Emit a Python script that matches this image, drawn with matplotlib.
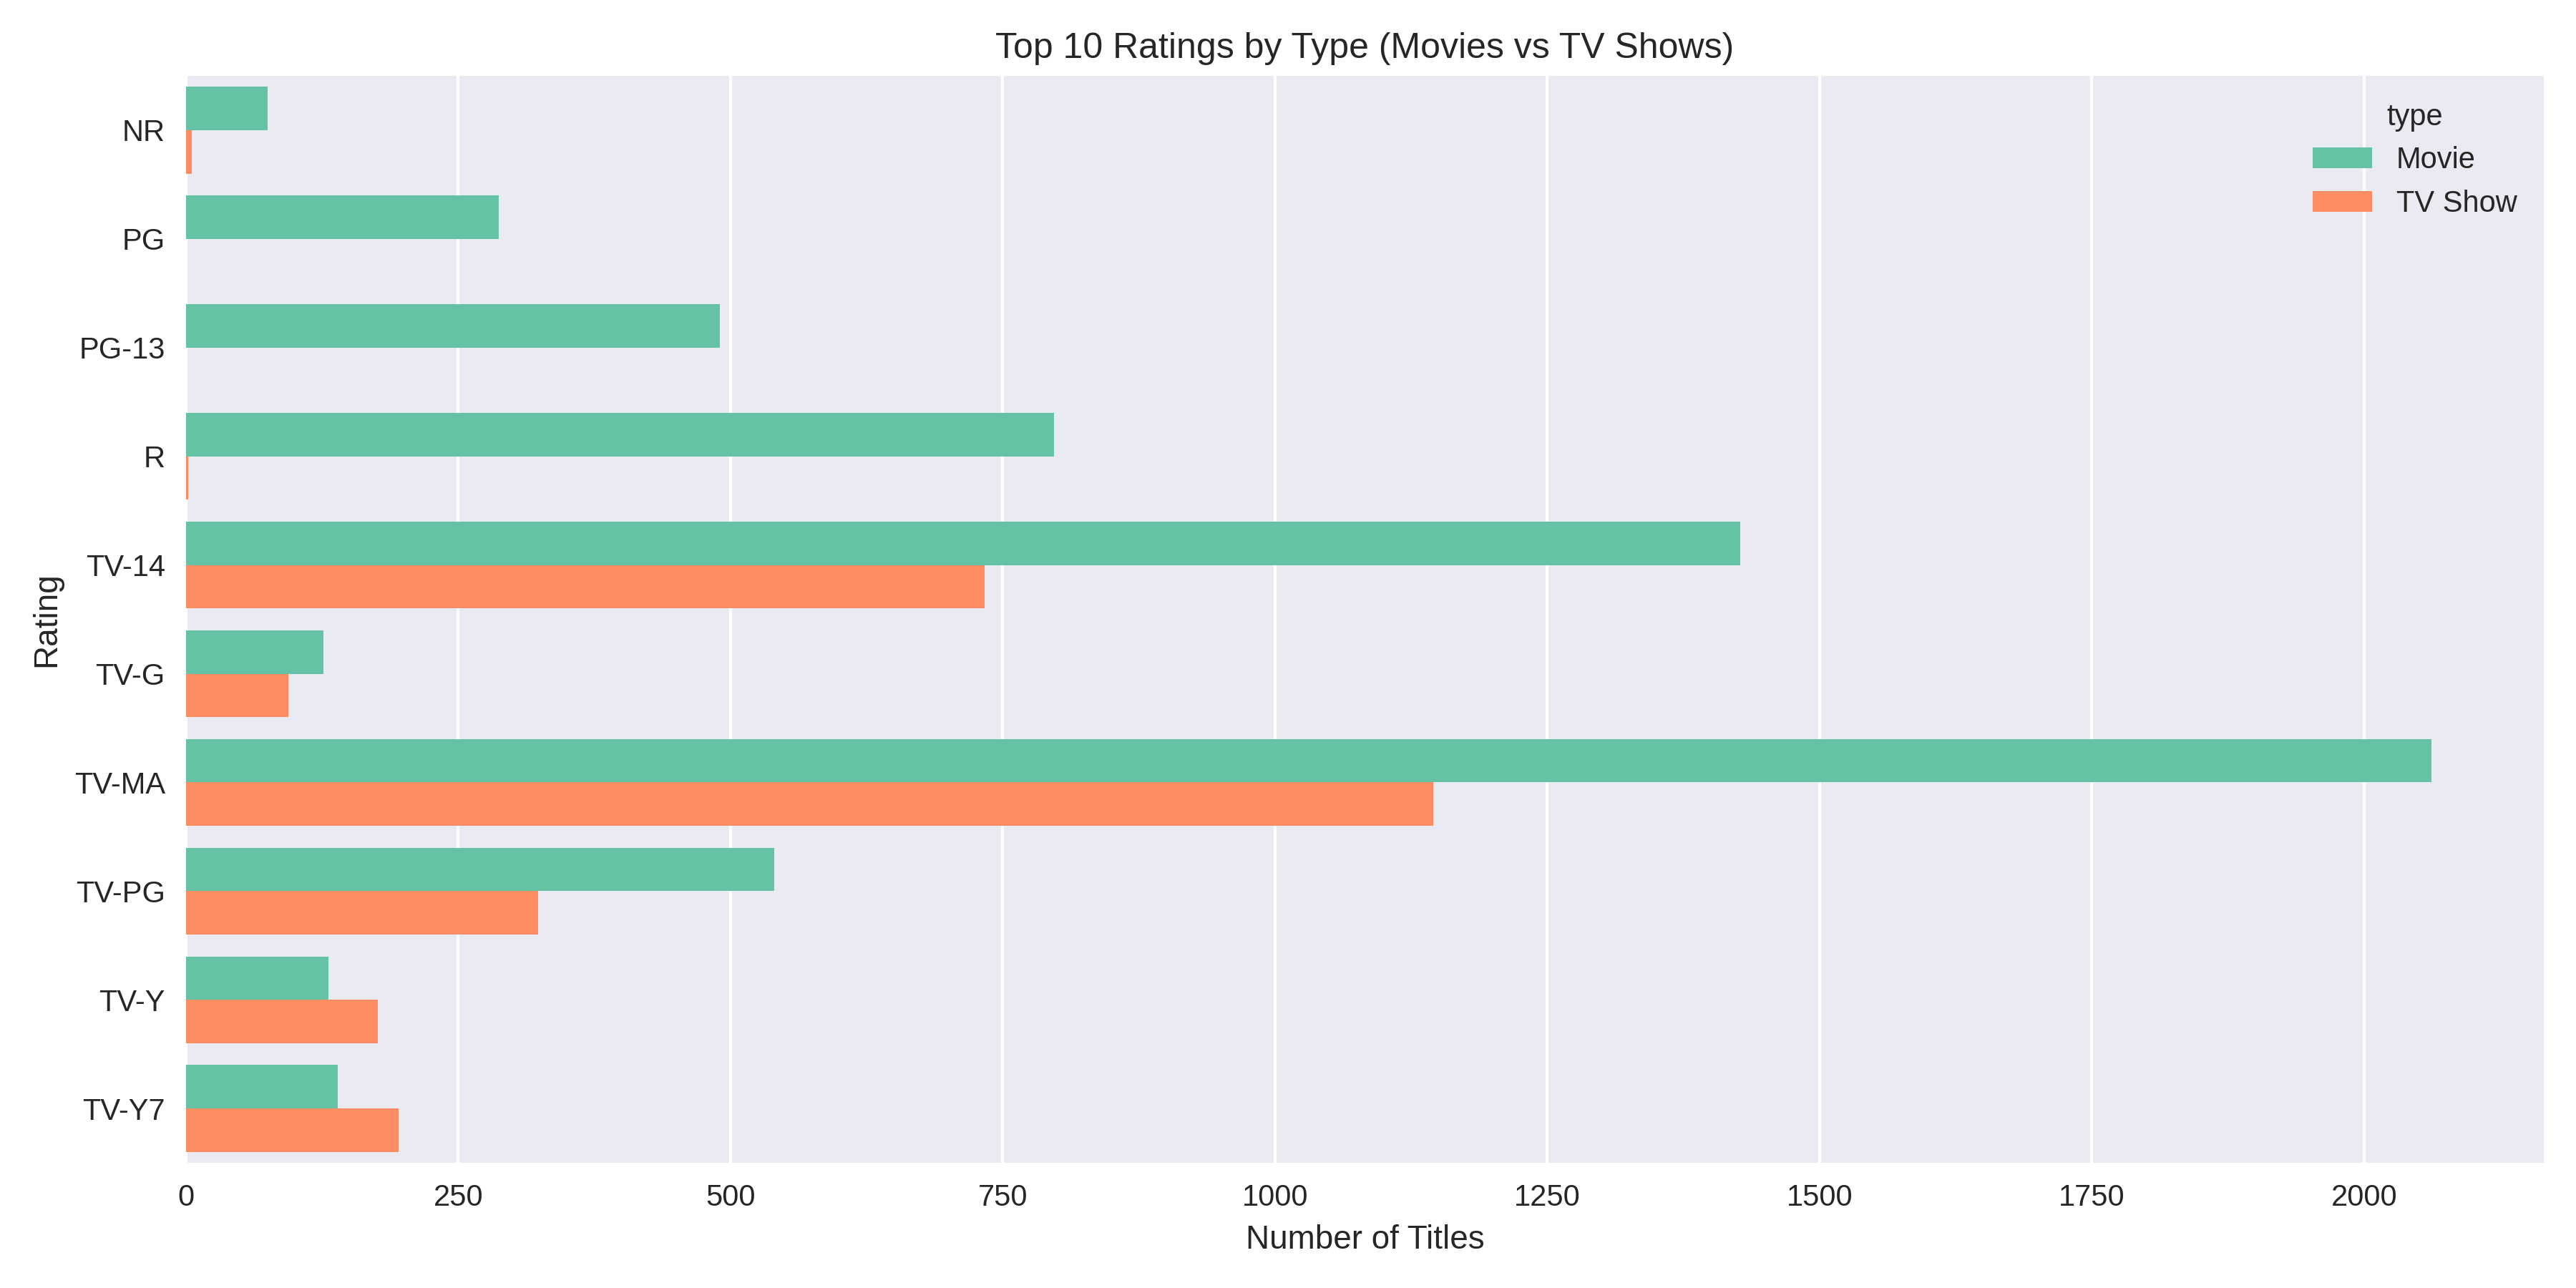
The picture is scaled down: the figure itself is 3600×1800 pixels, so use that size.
import matplotlib
matplotlib.use("Agg")
import matplotlib.pyplot as plt
import numpy as np
import seaborn as sns

ratings = ["NR", "PG", "PG-13", "R", "TV-14", "TV-G", "TV-MA", "TV-PG", "TV-Y", "TV-Y7"]
movie_counts = [75, 287, 490, 797, 1427, 126, 2062, 540, 131, 139]
tv_counts = [5, 0, 0, 2, 733, 94, 1145, 323, 176, 195]

plt.style.use("seaborn-v0_8")
plt.rcParams["font.family"] = ["Liberation Sans", "DejaVu Sans"]

colors = sns.color_palette("Set2", 2)
fig, ax = plt.subplots(figsize=(12, 6))

y = np.arange(len(ratings))
h = 0.4
ax.barh(y - h / 2, movie_counts, h, color=colors[0], label="Movie")
ax.barh(y + h / 2, tv_counts, h, color=colors[1], label="TV Show")

ax.set_yticks(y)
ax.set_yticklabels(ratings)
ax.set_ylim(len(ratings) - 0.5, -0.5)
ax.grid(axis="y", visible=False)
ax.set_title("Top 10 Ratings by Type (Movies vs TV Shows)")
ax.set_xlabel("Number of Titles")
ax.set_ylabel("Rating")
ax.legend(title="type", loc="upper right", frameon=False)

plt.tight_layout()
plt.savefig("out.png", dpi=300)
